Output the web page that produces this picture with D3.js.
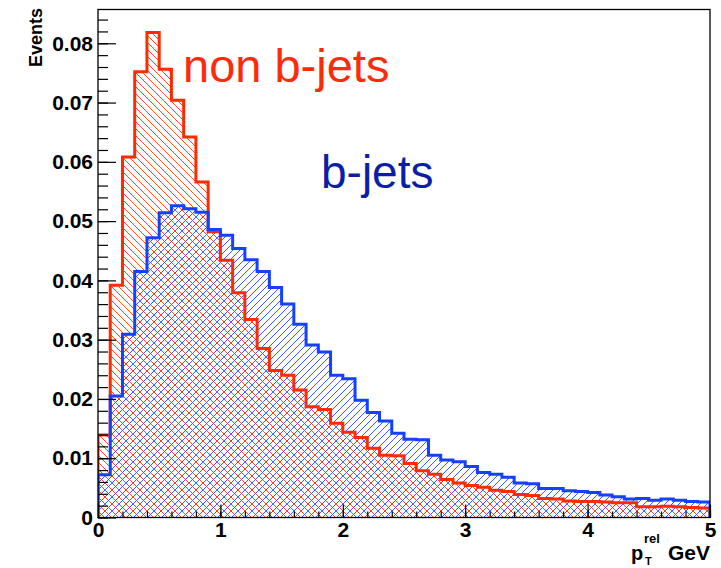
<!DOCTYPE html>
<html>
<head>
<meta charset="utf-8">
<script src="https://cdn.jsdelivr.net/npm/d3@7"></script>
<style>
  html, body { margin: 0; padding: 0; background: #fff; }
  svg { display: block; font-family: "Liberation Sans", Arial, Helvetica, sans-serif; }
  .axis path { display: none; }
  .axis line { stroke: #000; stroke-width: 1.2; }
  .axis text { font-size: 21px; font-weight: bold; fill: #000; }
</style>
</head>
<body>
<svg id="chart" width="721" height="568"></svg>
<script>
// Histogram binning: 50 bins of width 0.1 GeV between 0 and 5
const binLow = d3.range(50).map(i => +(i * 0.1).toFixed(1));
const binWidth = 0.1;

// Normalised p_T^rel distribution, light-flavour jets
const nonBJets = [
  0.0139, 0.0392, 0.0608, 0.0752, 0.0818, 0.0756, 0.0704, 0.0642, 0.0566, 0.0482,
  0.0434, 0.0379, 0.0334, 0.0285, 0.0248, 0.0240, 0.0215, 0.0187, 0.0182, 0.0159,
  0.0144, 0.0135, 0.0117, 0.0105, 0.0104, 0.0091, 0.0079, 0.0073, 0.0064, 0.0058,
  0.0054, 0.0051, 0.0046, 0.0044, 0.0039, 0.0037, 0.0032, 0.0031, 0.0028, 0.0027,
  0.0027, 0.0026, 0.0025, 0.0025, 0.0018, 0.0018, 0.0019, 0.0018, 0.0017, 0.0016
];

// Normalised p_T^rel distribution, b-jets
const bJets = [
  0.0072, 0.0205, 0.0309, 0.0415, 0.0472, 0.0514, 0.0526, 0.0521, 0.0515, 0.0486,
  0.0476, 0.0454, 0.0435, 0.0415, 0.0388, 0.0360, 0.0326, 0.0291, 0.0279, 0.0240,
  0.0234, 0.0198, 0.0177, 0.0163, 0.0142, 0.0132, 0.0131, 0.0105, 0.0097, 0.0094,
  0.0086, 0.0076, 0.0073, 0.0068, 0.0058, 0.0057, 0.0049, 0.0049, 0.0045, 0.0044,
  0.0042, 0.0038, 0.0035, 0.0031, 0.0032, 0.0029, 0.0031, 0.0029, 0.0027, 0.0026
];

// Axis ranges and ticks
const xDomain = [0, 5];
const yDomain = [0, 0.0857];
const xMajorTicks = [0, 1, 2, 3, 4, 5];
const xMinorTicks = d3.range(0, 5.001, 0.2).map(v => +v.toFixed(1));
const yMajorTicks = [0, 0.01, 0.02, 0.03, 0.04, 0.05, 0.06, 0.07, 0.08];
const yMinorTicks = d3.range(0, 0.0851, 0.002).map(v => +v.toFixed(3));

const svg = d3.select("#chart");
const frame = { left: 98, right: 710, top: 9.5, bottom: 517.5 };

const x = d3.scaleLinear().domain(xDomain).range([frame.left, frame.right]);
const y = d3.scaleLinear().domain(yDomain).range([frame.bottom, frame.top]);

const defs = svg.append("defs");
defs.append("clipPath").attr("id", "plotClip")
  .append("rect")
  .attr("x", frame.left).attr("y", frame.top)
  .attr("width", frame.right - frame.left).attr("height", frame.bottom - frame.top);

// Hatch patterns: "\" for non b-jets, "/" for b-jets
const hs = 7;
const redHatch = defs.append("pattern").attr("id", "hatchRed")
  .attr("patternUnits", "userSpaceOnUse").attr("width", hs).attr("height", hs);
redHatch.append("path")
  .attr("d", `M0,0 L${hs},${hs} M${-hs},0 L0,${hs} M${hs},0 L${2*hs},${hs}`)
  .attr("stroke", "#ff4a2a").attr("stroke-width", 1).attr("fill", "none");

const blueHatch = defs.append("pattern").attr("id", "hatchBlue")
  .attr("patternUnits", "userSpaceOnUse").attr("width", hs).attr("height", hs);
blueHatch.append("path")
  .attr("d", `M0,${hs} L${hs},0 M${-hs},${hs} L0,0 M${hs},${hs} L${2*hs},0`)
  .attr("stroke", "#3c5aff").attr("stroke-width", 1).attr("fill", "none");

// Step outline of a histogram, starting and ending on the x axis
function stepPoints(values) {
  const pts = [[binLow[0], 0]];
  values.forEach((v, i) => {
    pts.push([binLow[i], v]);
    pts.push([binLow[i] + binWidth, v]);
  });
  pts.push([binLow[values.length - 1] + binWidth, 0]);
  return pts;
}
const line = d3.line().x(d => x(d[0])).y(d => y(d[1]));

const plot = svg.append("g").attr("clip-path", "url(#plotClip)");

const series = [
  { values: nonBJets, hatch: "url(#hatchRed)", color: "#ff2a00" },
  { values: bJets, hatch: "url(#hatchBlue)", color: "#1440ff" }
];

series.forEach(s => {
  plot.append("path")
    .attr("d", line(stepPoints(s.values)) + "Z")
    .attr("fill", s.hatch)
    .attr("stroke", "none");
});
series.forEach(s => {
  plot.append("path")
    .attr("d", line(stepPoints(s.values)))
    .attr("fill", "none")
    .attr("stroke", s.color)
    .attr("stroke-width", 3)
    .attr("stroke-linejoin", "miter");
});

// Frame
svg.append("rect")
  .attr("x", frame.left).attr("y", frame.top)
  .attr("width", frame.right - frame.left).attr("height", frame.bottom - frame.top)
  .attr("fill", "none").attr("stroke", "#000").attr("stroke-width", 1.3);

// Y axis: ticks point into the frame
const yFmt = d => d === 0 ? "0" : d3.format(".2f")(d);
svg.append("g").attr("class", "axis")
  .attr("transform", `translate(${frame.left},0)`)
  .call(d3.axisLeft(y).tickValues(yMinorTicks).tickSize(-10).tickFormat(""));
svg.append("g").attr("class", "axis")
  .attr("transform", `translate(${frame.left},0)`)
  .call(d3.axisLeft(y).tickValues(yMajorTicks).tickSize(-18).tickPadding(5).tickFormat(yFmt));

// X axis: ticks point up into the frame
svg.append("g").attr("class", "axis")
  .attr("transform", `translate(0,${frame.bottom})`)
  .call(d3.axisBottom(x).tickValues(xMinorTicks).tickSize(-6).tickFormat(""));
svg.append("g").attr("class", "axis")
  .attr("transform", `translate(0,${frame.bottom})`)
  .call(d3.axisBottom(x).tickValues(xMajorTicks).tickSize(-13).tickPadding(5).tickFormat(d3.format("d")));

// Axis titles
svg.append("text")
  .attr("transform", "translate(42,8) rotate(-90)")
  .attr("text-anchor", "end")
  .attr("font-size", 18).attr("font-weight", "bold")
  .text("Events");

const xt = svg.append("g").attr("font-weight", "bold").attr("fill", "#000");
xt.append("text").attr("x", 631).attr("y", 560).attr("font-size", 20).text("p");
xt.append("text").attr("x", 644).attr("y", 543).attr("font-size", 13).text("rel");
xt.append("text").attr("x", 645).attr("y", 565).attr("font-size", 11).text("T");
xt.append("text").attr("x", 710).attr("y", 560).attr("text-anchor", "end").attr("font-size", 21).text("GeV");

// Series labels
svg.append("text")
  .attr("x", 183).attr("y", 81.5)
  .attr("font-size", 47).attr("fill", "#ff2a0a")
  .text("non b-jets");
svg.append("text")
  .attr("x", 321).attr("y", 188)
  .attr("font-size", 46).attr("fill", "#0a1eaa")
  .text("b-jets");
</script>
</body>
</html>
